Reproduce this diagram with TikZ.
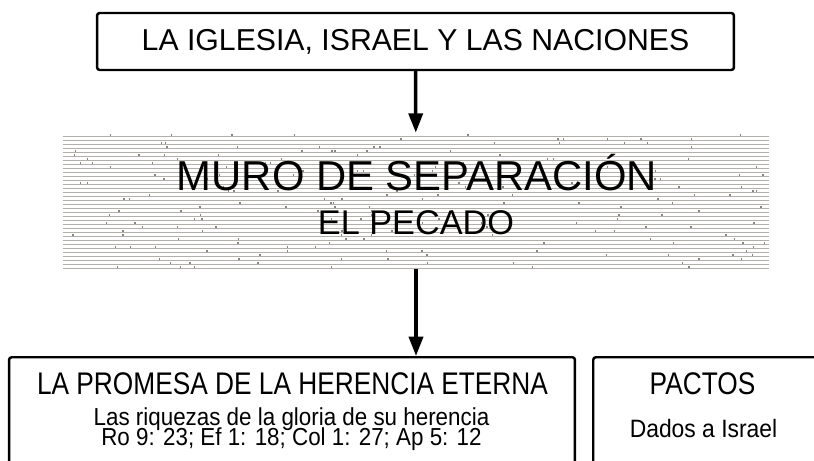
\documentclass[tikz,border=0pt]{standalone}
\usepackage{fontspec}
\setmainfont{Liberation Sans}
\newfontfamily\narrowsans{Liberation Sans}[FakeStretch=0.84]
\newfontfamily\subsans{Liberation Sans}[FakeStretch=0.91]
\newcommand\tightlines{\lineskiplimit=-20pt\relax}
\usetikzlibrary{positioning, arrows.meta}
\definecolor{wallgray}{RGB}{220,220,220}
\definecolor{wallline}{RGB}{178,174,170}
\definecolor{walljoint}{RGB}{140,132,126}

\begin{document}
\begin{tikzpicture}[
  x=0.02cm, y=-0.02cm,
  box/.style={draw, line width=1.4pt, rounded corners=1.5pt, fill=white, inner sep=0pt},
  arrow/.style={-{Triangle[width=8pt, length=11pt]}, line width=2pt},
  wallbox/.style={fill=wallgray, inner sep=0pt},
  walltext/.style={anchor=base, inner sep=0pt},
  titletext/.style={anchor=base, font=\narrowsans\fontsize{17.8}{20}\selectfont, inner sep=0pt},
  subtext/.style={anchor=base, align=center, inner sep=0pt,
    font=\subsans\fontsize{14}{11.3}\selectfont\tightlines}
]
  \useasboundingbox (0,0) rectangle (814,460);
  \clip (0,0) rectangle (814,460);

  % top box
  \node[box, minimum width=12.74cm, minimum height=1.14cm, font=\fontsize{17.2}{20}\selectfont]
    (iglesia) at (415.5,41.5) {LA IGLESIA, ISRAEL Y LAS NACIONES};

  % the wall
  \node[wallbox, minimum width=14.12cm, minimum height=2.72cm] (muro) at (416,201) {};
  \begin{scope}[shift={(63,133)}]
    \pgfmathsetseed{42}
    \foreach \r in {0,...,33}{
      \draw[white, line width=1.3pt] (0,\r*4+1.5) -- (706,\r*4+1.5);
      \draw[wallline, line width=0.35pt] (0,\r*4+3.6) -- (706,\r*4+3.6);
      \foreach \k in {1,...,6}{
        \pgfmathsetmacro\jx{rnd*702}
        \draw[walljoint, line width=0.8pt] (\jx,\r*4+0.6) -- ++(0,2.8);
      }
    }
  \end{scope}
  \node[walltext, font=\fontsize{23.8}{26}\selectfont] (murotit) at (417,190.5) {MURO DE SEPARACIÓN};
  \node[walltext, font=\fontsize{19.5}{22}\selectfont] (pecado) at (416,234) {EL PECADO};

  % bottom boxes
  \node[box, anchor=north, minimum width=11.32cm, minimum height=3cm] (promesa) at (292,356) {};
  \node[box, anchor=north west, minimum width=4.5cm, minimum height=3cm] (pactos) at (592,356) {};

  \node[titletext] (promesatit) at (292.5,394) {LA PROMESA DE LA HERENCIA ETERNA};
  \node[subtext] (riquezas) at (291.5,445)
    {Las riquezas de la gloria de su herencia\\Ro 9: 23; Ef 1: 18; Col 1: 27; Ap 5: 12};
  \node[titletext] (pactostit) at (702.5,394) {PACTOS};
  \node[subtext, font=\subsans\fontsize{14.3}{16}\selectfont] (dados) at (703.5,437) {Dados a Israel};

  \draw[arrow] (iglesia) -- (muro);
  \draw[arrow] (muro.south) -- (muro.south |- promesa.north);
\end{tikzpicture}
\end{document}
